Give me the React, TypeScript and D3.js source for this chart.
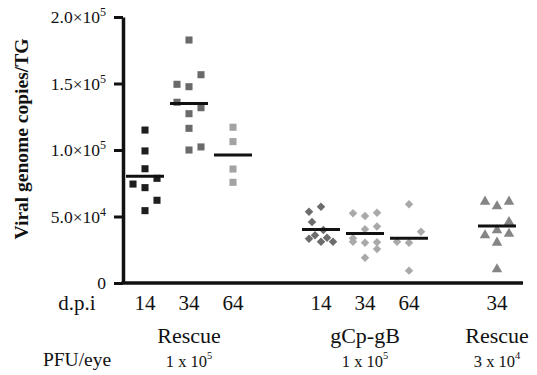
import React, { useEffect, useRef } from "react";
import * as d3 from "d3";

// days post infection for each group (x tick labels)
const dpi = ["14", "34", "64", "14", "34", "64", "34"];
// slots on the x axis, blanks separate the three virus clusters
const slots = ["r14", "r34", "r64", "gap1", "g14", "g34", "g64", "gap2", "l34"];
const groupSlot = ["r14", "r34", "r64", "g14", "g34", "g64", "l34"];

const clusters = ["Rescue", "gCp-gB", "Rescue"];
const clusterGroups = [[0, 1, 2], [3, 4, 5], [6]];
const doseBase = ["1 x 10", "1 x 10", "3 x 10"];
const doseExp = ["5", "5", "4"];

// viral genome copies per TG, one array per group
const rescue14 = [115000, 99300, 85900, 74400, 78700, 71700, 62200, 54400];
const rescue34 = [182700, 156600, 149400, 147600, 135900, 131800, 127300, 116300, 100000, 102300];
const rescue64 = [117100, 106300, 85700, 75700];
const gcp14 = [53600, 57400, 45900, 39900, 33300, 35900, 31100, 34100, 31100];
const gcp34 = [52400, 50400, 52900, 40400, 42400, 33600, 31100, 30300, 30600, 25600, 19000];
const gcp64 = [59200, 38600, 31100, 30300, 9300];
const rescueLow34 = [61900, 58400, 61900, 46600, 36600, 40400, 37800, 31100, 11100];

// horizontal scatter column of each point (-1 left, 0 centre, 1 right)
const rescue14Col = [0, 0, 0, -1, 1, 0, 1, 0];
const rescue34Col = [0, 1, -1, 0, -1, 1, 0, 0, 0, 1];
const rescue64Col = [0, 0, 0, 0];
const gcp14Col = [-1, 0, -0.75, 0.2, -1, -0.5, 0, 0.5, 1];
const gcp34Col = [-1, 0, 1, 0, 1, -1, -1, 0, 1, 1, 0];
const gcp64Col = [0, 1, -1, 0, 0];
const rescueLow34Col = [-1, 0, 1, 1, -1, 0, 1, 0, 0];

const values = [rescue14, rescue34, rescue64, gcp14, gcp34, gcp64, rescueLow34];
const cols = [rescue14Col, rescue34Col, rescue64Col, gcp14Col, gcp34Col, gcp64Col, rescueLow34Col];
const shapes = ["square", "square", "square", "diamond", "diamond", "diamond", "triangle"];
const colors = ["#1e1e1e", "#6a6a6a", "#a3a3a3", "#6c6c6c", "#a9a9a9", "#a9a9a9", "#858585"];

const yTicks = [0, 50000, 100000, 150000, 200000];

function App() {
  const ref = useRef<SVGSVGElement>(null);

  useEffect(() => {
    const width = 537;
    const height = 375;
    const marginLeft = 123;
    const marginRight = 14;
    const marginTop = 17;
    const marginBottom = 92;
    const font = "Liberation Serif, Times New Roman, Times, DejaVu Serif, serif";

    const svg = d3.select(ref.current);
    svg.selectAll("*").remove();

    const x = d3.scalePoint().domain(slots).range([145, 497]);
    const y = d3.scaleLinear([0, 200000], [height - marginBottom, marginTop]);
    const jitter = d3.scaleLinear([-1, 1], [-12, 12]);

    // y axis
    const yAxis = svg.append("g")
      .attr("transform", `translate(${marginLeft},0)`)
      .call(d3.axisLeft(y).tickValues(yTicks).tickSize(9).tickFormat(() => "").tickSizeOuter(0));
    yAxis.select("path.domain").attr("stroke", "#111").attr("stroke-width", 3.5);
    yAxis.selectAll(".tick line").attr("stroke", "#111").attr("stroke-width", 3);

    // tick labels with superscript exponent
    const labels = svg.append("g").style("font-family", font).attr("fill", "#111");
    yTicks.forEach(t => {
      const txt = labels.append("text")
        .attr("x", marginLeft - 17)
        .attr("y", y(t) + 6)
        .attr("text-anchor", "end")
        .attr("font-size", 17.5);
      if (t === 0) {
        txt.text("0");
      } else {
        const exp = Math.floor(Math.log10(t));
        const mant = (t / Math.pow(10, exp)).toFixed(1);
        txt.append("tspan").text(`${mant}×10`);
        txt.append("tspan").attr("font-size", 12).attr("dy", -7).text(String(exp));
      }
    });

    // x axis line
    svg.append("line")
      .attr("x1", marginLeft - 1.5)
      .attr("x2", width - marginRight)
      .attr("y1", y(0))
      .attr("y2", y(0))
      .attr("stroke", "#111")
      .attr("stroke-width", 3.5);

    // y title
    svg.append("text")
      .attr("transform", `translate(28,139) rotate(-90)`)
      .attr("text-anchor", "middle")
      .style("font-family", font)
      .attr("font-weight", "bold")
      .attr("font-size", 19.5)
      .attr("fill", "#111")
      .text("Viral genome copies/TG");

    const sq = d3.symbol(d3.symbolSquare, 50);
    const dia = d3.symbol(d3.symbolSquare, 36);
    const tri = d3.symbol(d3.symbolTriangle, 48);

    values.forEach((vals, gi) => {
      const cx = x(groupSlot[gi])!;
      const g = svg.append("g").attr("fill", colors[gi]);
      vals.forEach((v, i) => {
        const px = cx + jitter(cols[gi][i]);
        const py = y(v);
        const shape = shapes[gi];
        g.append("path")
          .attr("d", shape === "square" ? sq() : shape === "diamond" ? dia() : tri())
          .attr("transform", shape === "diamond"
            ? `translate(${px},${py}) rotate(45)`
            : shape === "triangle" ? `translate(${px},${py + 1})` : `translate(${px},${py})`);
      });
      // mean line
      const m = d3.mean(vals)!;
      svg.append("line")
        .attr("x1", cx - 19)
        .attr("x2", cx + 19)
        .attr("y1", y(m))
        .attr("y2", y(m))
        .attr("stroke", "#111")
        .attr("stroke-width", 3);
    });

    // bottom labels
    const bottom = svg.append("g").style("font-family", font).attr("fill", "#111").attr("text-anchor", "middle");
    bottom.append("text").attr("x", 77).attr("y", 310).attr("font-size", 21).text("d.p.i");
    dpi.forEach((d, i) => {
      bottom.append("text")
        .attr("x", x(groupSlot[i])!)
        .attr("y", 310)
        .attr("font-size", 21)
        .text(d);
    });
    bottom.append("text").attr("x", 77).attr("y", 366).attr("font-size", 19.5).text("PFU/eye");

    clusters.forEach((c, ci) => {
      const cx = d3.mean(clusterGroups[ci], gi => x(groupSlot[gi])!)!;
      bottom.append("text")
        .attr("x", cx)
        .attr("y", 343)
        .attr("font-size", 22)
        .text(c);
      const dose = bottom.append("text")
        .attr("x", cx)
        .attr("y", 367)
        .attr("font-size", 16.5);
      dose.append("tspan").text(doseBase[ci]);
      dose.append("tspan").attr("font-size", 10.5).attr("dy", -8).text(doseExp[ci]);
    });
  }, []);

  return (
    <svg
      ref={ref}
      width={537}
      height={375}
      style={{ position: "absolute", left: 0, top: 0, background: "#fff" }}
    />
  );
}

export default App;
